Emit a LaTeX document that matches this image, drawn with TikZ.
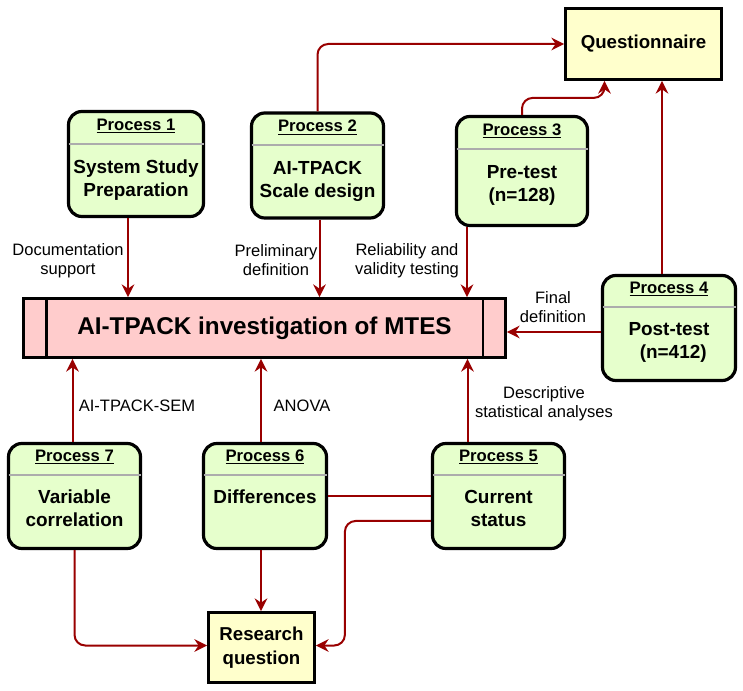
\documentclass[tikz,border=0pt]{standalone}
\usepackage{fontspec}
\setmainfont{Liberation Sans}
\usetikzlibrary{arrows.meta}

\definecolor{procfill}{HTML}{E6FFCC}
\definecolor{notefill}{HTML}{FFFFCC}
\definecolor{mainfill}{HTML}{FFCCCC}
\definecolor{flowred}{HTML}{990000}
\def\px{0.75pt}

\begin{document}
\begin{tikzpicture}[x=\px, y=-\px,
	proc/.style={rectangle,draw,fill=procfill,line width=2.4pt,rounded corners=10pt,minimum width=133*\px,minimum height=105*\px},
	notebox/.style={rectangle,draw,fill=notefill,line width=2.2pt,font=\fontsize{14}{18}\selectfont\bfseries,align=center,inner sep=0},
	head/.style={font=\fontsize{12.5}{14}\selectfont\bfseries,inner sep=0},
	body/.style={anchor=north,font=\fontsize{14.2}{17.2}\selectfont\bfseries,align=center,inner sep=0},
	lbl/.style={font=\fontsize{12.4}{14.2}\selectfont,align=center,inner sep=0},
	sep/.style={draw=gray!65,line width=1.4pt,shorten <=1.2pt,shorten >=1.2pt},
	flow/.style={draw=flowred,line width=1.5pt,-{Stealth[length=9.5pt,width=9.5pt,inset=3.2pt]}}]
	\useasboundingbox (0,0) rectangle (743,691);

	% main box
	\node (main) at (264.5,328) [rectangle,draw,fill=mainfill,line width=2.2pt,minimum width=482*\px,minimum height=59*\px,inner sep=0,font=\fontsize{18.2}{20}\selectfont\bfseries]  {AI-TPACK investigation of MTES};
	\draw[line width=2.2pt] ([xshift=24*\px]main.north west) to ([xshift=24*\px]main.south west);
	\draw[line width=2.2pt] ([xshift=-24*\px]main.north east) to ([xshift=-24*\px]main.south east);

	\node (quest) at (643.5,44) [notebox,minimum width=156*\px,minimum height=71*\px]  {Questionnaire};
	\node (rq) at (261.5,647.5) [notebox,minimum width=106*\px,minimum height=70*\px]  {Research\\question};

	% processes
	\node (p1) at (136,164) [proc,minimum width=135*\px]  {};
	\node (p2) at (317.5,165.5) [proc,minimum width=132*\px]  {};
	\node (p3) at (522,171) [proc,minimum width=131*\px,minimum height=109*\px]  {};
	\node (p4) at (669,328) [proc]  {};
	\node (p5) at (498.5,496) [proc,minimum width=132*\px]  {};
	\node (p6) at (265,496) [proc,minimum width=123*\px]  {};
	\node (p7) at (74.5,496) [proc,minimum width=132*\px]  {};

	\draw[sep] ([yshift=-34*\px]p1.north west) to ([yshift=-34*\px]p1.north east);
	\draw[sep] ([yshift=-34*\px]p2.north west) to ([yshift=-34*\px]p2.north east);
	\draw[sep] ([yshift=-34*\px]p3.north west) to ([yshift=-34*\px]p3.north east);
	\draw[sep] ([yshift=-33*\px]p4.north west) to ([yshift=-33*\px]p4.north east);
	\draw[sep] ([yshift=-33*\px]p5.north west) to ([yshift=-33*\px]p5.north east);
	\draw[sep] ([yshift=-33*\px]p6.north west) to ([yshift=-33*\px]p6.north east);
	\draw[sep] ([yshift=-33*\px]p7.north west) to ([yshift=-33*\px]p7.north east);

	\node (p1h) at ([yshift=-16*\px]p1.north) [head]  {\underline{Process 1}};
	\node (p2h) at ([yshift=-16*\px]p2.north) [head]  {\underline{Process 2}};
	\node (p3h) at ([yshift=-16*\px]p3.north) [head]  {\underline{Process 3}};
	\node (p4h) at ([yshift=-15*\px]p4.north) [head]  {\underline{Process 4}};
	\node (p5h) at ([yshift=-15*\px]p5.north) [head]  {\underline{Process 5}};
	\node (p6h) at ([yshift=-15*\px]p6.north) [head]  {\underline{Process 6}};
	\node (p7h) at ([yshift=-15*\px]p7.north) [head]  {\underline{Process 7}};

	\node (p1b) at ([yshift=-50*\px]p1.north) [body]  {System Study\\Preparation};
	\node (p2b) at ([yshift=-50*\px]p2.north) [body]  {AI-TPACK\\Scale design};
	\node (p3b) at ([yshift=-50*\px]p3.north) [body]  {Pre-test\\(n=128)};
	\node (p4b) at ([yshift=-48*\px]p4.north) [body]  {Post-test\\\ \,(n=412)};
	\node (p5b) at ([yshift=-48*\px]p5.north) [body]  {Current\\status};
	\node (p6b) at ([yshift=-48*\px]p6.north) [body]  {Differences};
	\node (p7b) at ([yshift=-48*\px]p7.north) [body]  {Variable\\correlation};

	% labels
	\node (l1) at (68,260.5) [lbl]  {Documentation\\support};
	\node (l2) at (276,260.5) [lbl]  {Preliminary\\definition};
	\node (l3) at (407,260.5) [lbl]  {Reliability and\\validity testing};
	\node (l4) at (553,307.5) [lbl]  {Final\\definition};
	\node (l5) at (137,406) [lbl]  {AI-TPACK-SEM};
	\node (l6) at (302,406) [lbl]  {ANOVA};
	\node (l7) at (544,404) [lbl]  {Descriptive\\statistical analyses};

	% connectors
	\draw[flow] ([xshift=-8*\px]p1.south) to ([xshift=-8*\px]p1.south |- main.north);
	\draw[flow] ([xshift=2*\px]p2.south) to ([xshift=2*\px]p2.south |- main.north);
	\draw[flow] ([xshift=-55*\px]p3.south) to ([xshift=-55*\px]p3.south |- main.north);
	\draw[flow] ([yshift=-4*\px]p4.west) to ([yshift=-4*\px]p4.west -| main.east);
	\draw[flow] ([xshift=-2*\px]p7.north) to ([xshift=-2*\px]p7.north |- main.south);
	\draw[flow] ([xshift=-4*\px]p6.north) to ([xshift=-4*\px]p6.north |- main.south);
	\draw[flow] ([xshift=-31*\px]p5.north) to ([xshift=-31*\px]p5.north |- main.south);

	\draw[flow,rounded corners=8pt] (p2.north) |- (quest.west);
	\draw[flow,rounded corners=8pt] (p3.north) -- ++(0,-17) -| ([xshift=-39*\px]quest.south);
	\draw[flow] ([xshift=-7*\px]p4.north) to ([xshift=-7*\px]p4.north |- quest.south);

	\draw[flow,rounded corners=8pt] (p7.south) |- ([yshift=2*\px]rq.west);
	\draw[flow] ([xshift=-4*\px]p6.south) to ([xshift=-4*\px]p6.south |- rq.north);
	\draw[draw=flowred,line width=1.5pt] (p6.east) to (p5.west);
	\draw[flow,rounded corners=8pt] ([yshift=-25*\px]p5.west) -- ++(-86,0) |- ([yshift=2*\px]rq.east);

\end{tikzpicture}
\end{document}
